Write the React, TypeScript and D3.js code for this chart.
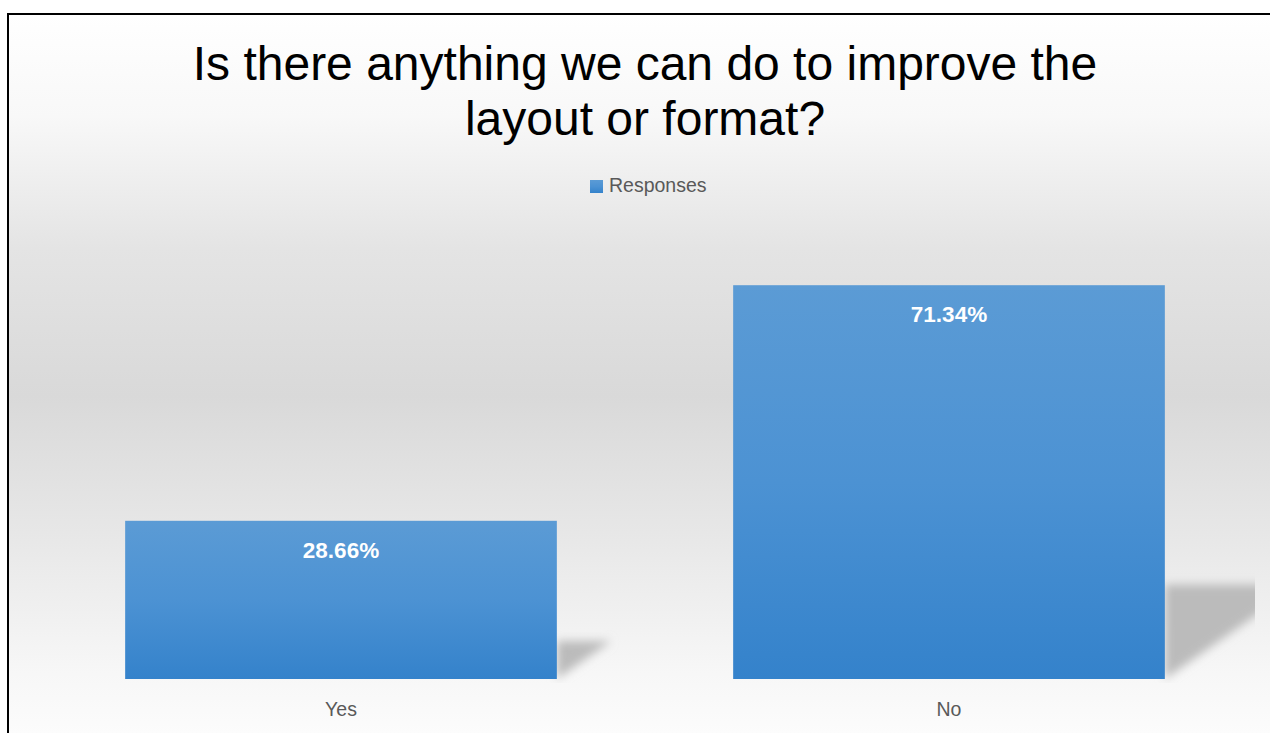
import React from "react";
import * as d3 from "d3";

const categories = ["Yes", "No"];
const values = [28.66, 71.34];
const seriesName = "Responses";
const titleLines = ["Is there anything we can do to improve the", "layout or format?"];

const W = 1270;
const H = 733;
const baseY = 679;

const App: React.FC = () => {
  const x = d3
    .scaleBand<string>()
    .domain(categories)
    .range([37, 1253])
    .paddingInner(0.29)
    .paddingOuter(0.145);

  const y = d3.scaleLinear().domain([0, 80]).range([baseY, 237.4]);

  // perspective shadow behind each bar
  const shadow = (cat: string, v: number) => {
    const x1 = (x(cat) as number) + x.bandwidth();
    const sh = (baseY - y(v)) * 0.24;
    const p = d3.path();
    p.moveTo(x1, baseY);
    p.lineTo(x1, baseY - sh);
    p.lineTo(x1 + sh / 0.7, baseY - sh);
    p.closePath();
    return p.toString();
  };

  return (
    <svg
      width={W}
      height={H}
      style={{ position: "absolute", left: 0, top: 0, background: "#fff" }}
    >
      <defs>
        <linearGradient id="bg" x1="0" y1="0" x2="0" y2="1">
          <stop offset="0" stopColor="#ffffff" />
          <stop offset="0.14" stopColor="#f8f8f8" />
          <stop offset="0.32" stopColor="#e4e4e4" />
          <stop offset="0.52" stopColor="#d9d9d9" />
          <stop offset="0.72" stopColor="#e8e8e8" />
          <stop offset="0.9" stopColor="#f7f7f7" />
          <stop offset="1" stopColor="#fdfdfd" />
        </linearGradient>
        <linearGradient id="bar" x1="0" y1="0" x2="0" y2="1">
          <stop offset="0" stopColor="#5b9bd5" />
          <stop offset="0.5" stopColor="#4c92d3" />
          <stop offset="1" stopColor="#3482cb" />
        </linearGradient>
        <filter id="blur" x="-20%" y="-30%" width="140%" height="160%">
          <feGaussianBlur stdDeviation="5" />
        </filter>
        <clipPath id="plot">
          <rect x={37} y={150} width={1218} height={533} />
        </clipPath>
      </defs>

      <rect x={8} y={14} width={W + 10} height={H} fill="url(#bg)" stroke="#000" strokeWidth={2} />

      <g fontFamily="'Liberation Sans', Arial, sans-serif" fontSize={48} fill="#000" textAnchor="middle">
        {titleLines.map((t, i) => (
          <text key={t} x={645} y={80 + i * 55}>
            {t}
          </text>
        ))}
      </g>

      <g fontFamily="'Liberation Sans', Arial, sans-serif">
        <rect x={590} y={180} width={13} height={13} fill="url(#bar)" />
        <text x={609} y={192} fontSize={19.5} fill="#595959">
          {seriesName}
        </text>
      </g>

      <g clipPath="url(#plot)">
        {categories.map((c, i) => (
          <path key={c} d={shadow(c, values[i])} fill="#bbbbbb" filter="url(#blur)" />
        ))}
      </g>

      {categories.map((c, i) => (
        <rect
          key={c}
          x={x(c)}
          y={y(values[i])}
          width={x.bandwidth()}
          height={baseY - y(values[i])}
          fill="url(#bar)"
        />
      ))}

      <g fontFamily="'Liberation Sans', Arial, sans-serif" textAnchor="middle">
        {categories.map((c, i) => (
          <text
            key={c}
            x={(x(c) as number) + x.bandwidth() / 2}
            y={y(values[i]) + 37}
            fontSize={22.5}
            fontWeight="bold"
            fill="#fff"
          >
            {values[i].toFixed(2) + "%"}
          </text>
        ))}
        {categories.map((c) => (
          <text
            key={c}
            x={(x(c) as number) + x.bandwidth() / 2}
            y={716}
            fontSize={19.5}
            fill="#595959"
          >
            {c}
          </text>
        ))}
      </g>
    </svg>
  );
};

export default App;
